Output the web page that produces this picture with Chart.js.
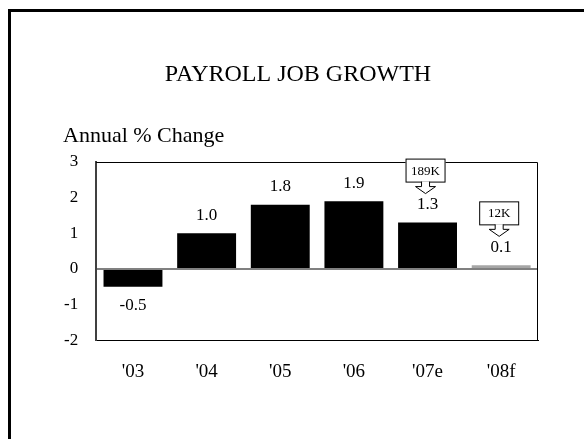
<!DOCTYPE html>
<html>
<head>
<meta charset="utf-8">
<script src="https://cdn.jsdelivr.net/npm/chart.js@4/dist/chart.umd.min.js"></script>
<style>
  html, body { margin: 0; padding: 0; background: #fff; }
  #wrap { width: 584px; height: 439px; }
</style>
</head>
<body>
<div id="wrap"><canvas id="grafico"></canvas></div>
<script>
const years = ["'03", "'04", "'05", "'06", "'07e", "'08f"];
const growth = [-0.5, 1.0, 1.8, 1.9, 1.3, 0.1];
const valueLabels = ["-0.5", "1.0", "1.8", "1.9", "1.3", "0.1"];
const jobsCallout = ["", "", "", "", "189K", "12K"];
const yTicks = [-2, -1, 0, 1, 2, 3];

const serif = "'Liberation Serif', 'Times New Roman', serif";

// colores: forecast en gris
const barColors = growth.map((v, i) => (i === growth.length - 1 ? "#a6a6a6" : "#000000"));

// marco, titulos, etiquetas y llamadas
const decoraciones = {
  id: "decoraciones",
  beforeDraw(chart) {
    const ctx = chart.ctx;
    ctx.save();
    ctx.fillStyle = "#fff";
    ctx.fillRect(0, 0, chart.width, chart.height);
    ctx.fillStyle = "#000";
    ctx.fillRect(8, 9, chart.width - 8, 3);
    ctx.fillRect(8, 9, 3, chart.height - 9);

    ctx.textAlign = "center";
    ctx.textBaseline = "middle";
    ctx.font = "24px " + serif;
    ctx.fillText("PAYROLL JOB GROWTH", 298, 75);
    ctx.textAlign = "left";
    ctx.font = "22px " + serif;
    ctx.fillText("Annual % Change", 63, 136);
    ctx.restore();
  },
  afterDatasetsDraw(chart) {
    const ctx = chart.ctx;
    const area = chart.chartArea;
    const meta = chart.getDatasetMeta(0);
    ctx.save();
    // borde del area
    ctx.strokeStyle = "#000";
    ctx.lineWidth = 1;
    ctx.beginPath();
    ctx.moveTo(area.left, area.top + 0.5);
    ctx.lineTo(area.right - 0.5, area.top + 0.5);
    ctx.lineTo(area.right - 0.5, area.bottom);
    ctx.stroke();

    ctx.fillStyle = "#000";
    ctx.font = "17px " + serif;
    ctx.textAlign = "center";
    meta.data.forEach((bar, i) => {
      const v = growth[i];
      let ly;
      if (v >= 0) {
        ly = bar.y - 18;
      } else {
        ly = bar.y + 19;
      }
      ctx.textBaseline = "middle";
      ctx.fillText(valueLabels[i], bar.x, ly);

      if (jobsCallout[i]) {
        const tip = ly - 11;
        const boxBottom = tip - 12;
        const boxTop = boxBottom - 23;
        const cx = bar.x - 2;
        const w = 40;
        ctx.fillStyle = "#fff";
        ctx.fillRect(cx - w / 2, boxTop, w, boxBottom - boxTop);
        ctx.strokeStyle = "#000";
        ctx.lineWidth = 1;
        ctx.strokeRect(cx - w / 2 + 0.5, boxTop + 0.5, w - 1, boxBottom - boxTop);
        // flecha
        ctx.beginPath();
        ctx.moveTo(cx - 4, boxBottom);
        ctx.lineTo(cx - 4, boxBottom + 5);
        ctx.lineTo(cx - 10, boxBottom + 5);
        ctx.lineTo(cx, tip);
        ctx.lineTo(cx + 10, boxBottom + 5);
        ctx.lineTo(cx + 4, boxBottom + 5);
        ctx.lineTo(cx + 4, boxBottom);
        ctx.fill();
        ctx.stroke();
        ctx.fillStyle = "#000";
        ctx.font = "13px " + serif;
        ctx.fillText(jobsCallout[i], cx, (boxTop + boxBottom) / 2 + 1);
        ctx.font = "17px " + serif;
      }
    });
    ctx.restore();
  }
};

const ctxGraf = document.getElementById("grafico");

new Chart(ctxGraf, {
  type: "bar",
  data: {
    labels: years,
    datasets: [
      {
        label: "Annual % Change",
        data: growth,
        backgroundColor: barColors,
        borderWidth: 0,
        barPercentage: 0.8,
        categoryPercentage: 1.0,
      },
    ],
  },
  options: {
    responsive: true,
    maintainAspectRatio: false,
    animation: false,
    layout: {
      padding: { left: 46, top: 162, right: 46, bottom: 36 },
    },
    plugins: {
      legend: { display: false },
      tooltip: { enabled: false },
    },
    scales: {
      x: {
        grid: { display: false, drawTicks: false },
        border: { display: true, color: "#000", width: 1 },
        ticks: {
          color: "#000",
          padding: 20,
          font: { family: serif, size: 19 },
        },
      },
      y: {
        min: -2,
        max: 3,
        afterBuildTicks(axis) {
          axis.ticks = yTicks.map((v) => ({ value: v }));
        },
        grid: {
          drawTicks: false,
          color: (c) => (c.tick && c.tick.value === 0 ? "#808080" : "rgba(0,0,0,0)"),
          lineWidth: 2,
        },
        border: { display: true, color: "#404040", width: 2 },
        ticks: {
          color: "#000",
          padding: 18,
          font: { family: serif, size: 17 },
        },
      },
    },
  },
  plugins: [decoraciones],
});
</script>
</body>
</html>
